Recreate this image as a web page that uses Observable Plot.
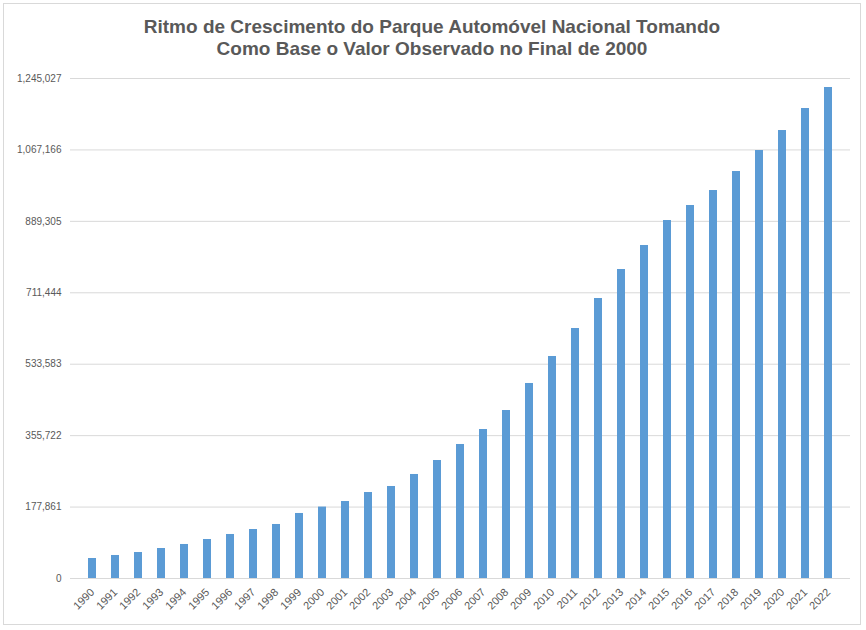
<!DOCTYPE html>
<html><head><meta charset="utf-8">
<script src="https://cdn.jsdelivr.net/npm/d3@7"></script>
<script src="https://cdn.jsdelivr.net/npm/@observablehq/plot@0.6"></script>
<style>
body{margin:0;background:#fff;font-family:Calibri,"Liberation Sans",Arial,sans-serif;}
#wrap{position:absolute;left:3px;top:3px;width:858px;height:622px;border:1px solid #d9d9d9;box-sizing:border-box;}
#title{position:absolute;top:12px;left:0;width:100%;text-align:center;font:bold 19px "Liberation Sans",Arial,sans-serif;color:#595959;line-height:22px;}
#chart{position:absolute;left:0;top:50px;}
</style></head><body>
<div id="wrap"><div id="title">Ritmo de Crescimento do Parque Automóvel Nacional Tomando<br>Como Base o Valor Observado no Final de 2000</div><div id="chart"></div></div>
<script>
const years=["1990","1991","1992","1993","1994","1995","1996","1997","1998","1999","2000","2001","2002","2003","2004","2005","2006","2007","2008","2009","2010","2011","2012","2013","2014","2015","2016","2017","2018","2019","2020","2021","2022"];
const values=[49800,57300,64700,74700,84700,97100,109600,122000,134500,161900,177861,191700,214100,229100,259000,293800,333700,371000,418300,485600,552800,622500,697200,769400,829200,891400,928800,966100,1013400,1065700,1115500,1170300,1222600];
const yTicks=[0,177861,355722,533583,711444,889305,1067166,1245027];
const data=years.map((y,i)=>({year:y,value:values[i]}));
const chart=Plot.plot({
  width:856,height:570,marginTop:24,marginBottom:46,marginLeft:66,marginRight:10,
  style:{fontFamily:"'Liberation Sans',Arial,sans-serif",fontSize:"10px",color:"#595959"},
  x:{domain:years,padding:0.65,label:null,tickSize:0,tickRotate:-45},
  y:{domain:[0,1245027],ticks:yTicks,tickFormat:d=>d3.format(",")(d),label:null,tickSize:0},
  marks:[
    Plot.gridY(yTicks,{stroke:"#d9d9d9",strokeOpacity:1}),
    Plot.ruleY([0],{stroke:"#d9d9d9"}),
    Plot.barY(data,{x:"year",y:"value",fill:"#5b9bd5"})
  ]
});
chart.querySelectorAll("[aria-label='x-axis tick label'] text").forEach(t=>t.style.fontSize="11px");
document.getElementById("chart").append(chart);
</script></body></html>
